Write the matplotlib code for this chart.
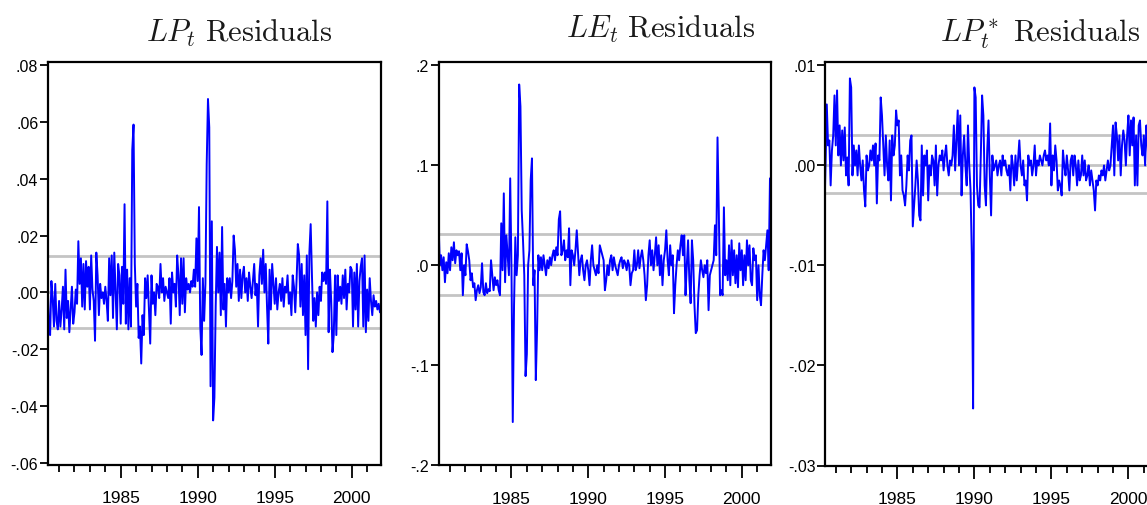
import numpy as np
import matplotlib
matplotlib.use('Agg')
import matplotlib.pyplot as plt
from matplotlib.ticker import FixedLocator, FuncFormatter

plt.rcParams['mathtext.fontset'] = 'cm'
tick_font = ['Liberation Sans Narrow', 'Liberation Sans', 'DejaVu Sans']

# monthly residuals, 1980:04 - 2001:12
start_year = 1980.25

# LP_t residuals, in units of 1e-3
lp_resid_e3 = [
    5, -11, -15, 4, -2, -12, 3, -10, -13,                  # 1980
    -3, -12, -6, 2, -13, 8, -9, -3, -14, -6, 2, -11,       # 1981
    -7, 1, -4, 18, 3, 12, -5, 10, -6, 11, 2, 9,            # 1982
    -6, 13, 1, -3, -17, 14, 6, -8, 3, -2, 0, -4,           # 1983
    2, -3, -10, 12, -1, 13, -9, 14, 1, -13, 10, 6,         # 1984
    -11, 9, -4, 31, -11, 8, -13, 5, -12, 50, 59, 10,       # 1985
    -5, 3, -16, -12, -25, -8, -15, 5, -2, 6, -6, -18,      # 1986
    6, -4, 0, -8, 3, 2, -2, 10, 0, 5, -3, 2,               # 1987
    0, -2, 5, -11, 7, 0, 3, -5, 13, 6, -8, 12,             # 1988
    -4, 12, -7, 5, 1, 3, 0, 4, 2, 8, 2, 19,                # 1989
    4, 30, -12, -22, 5, -10, 3, 45, 68, 58, -33, 25,       # 1990
    -45, -37, -5, 16, 0, 14, -8, 23, -6, 3, -12, 5,        # 1991
    0, 5, -2, 4, 20, 15, 2, 10, -3, 8, -2, 6,              # 1992
    9, 0, 5, -3, 7, 2, -2, 4, 10, -1, 3, -12,              # 1993
    6, 12, 3, 15, 0, 10, -5, -18, 8, -6, 10, 3,            # 1994
    -4, 5, -6, 0, 3, -3, 5, -5, 2, 0, 6, -4,               # 1995
    0, -8, 6, 2, -7, 4, 17, 13, -5, 10, -8, 6,             # 1996
    -15, 13, -27, 14, 24, 6, -10, -2, -12, 0, -8, 2,       # 1997
    -3, 7, 4, 7, 3, 32, -14, 8, -3, -21, -15, 6,           # 1998
    -15, 6, -3, 2, -4, 6, -2, 8, -6, 3, 0, 9,              # 1999
    8, -12, 7, -6, 10, -12, 4, 9, 12, -12, 13, -14,        # 2000
    1, -10, 5, -3, -8, -1, -5, -3, -6, -4, -7, -7,         # 2001
]

# LE_t residuals, in units of 1e-3
le_resid_e3 = [
    44, 0, 10, -5, 8, -17, 3, -8, 12,
    -5, 18, 5, 23, 2, 15, 10, 14, -5, 12, -30, 0,
    -10, 21, 14, 5, -15, -8, -22, -18, -35, -25, -20, -28,
    -22, 2, -27, -30, -18, -28, -24, -26, 5, -10, -25, -12,
    -20, -15, -25, -30, 42, -5, 72, -17, 30, 10, -10, 87,
    -5, -157, -40, 28, -10, 10, 181, 159, 55, 25, -10, -111,
    -89, 0, 15, 85, 107, -20, -5, -115, -65, 10, -5, 8,
    -5, 10, 0, -10, 5, -3, 8, 0, 10, 15, 5, 18,
    10, 46, 54, 10, 15, 25, 5, 15, 8, 37, -20, 15,
    10, 0, 15, 35, 12, -10, 5, 10, -5, -15, 0, 5,
    -5, -20, 5, 20, 0, -5, -10, 0, -8, 20, 15, 10,
    5, -25, -15, 0, -10, 5, 10, -5, 8, 0, -5, -10,
    0, 5, 8, -3, 5, 2, -5, 5, 0, -20, -8, -5,
    15, -5, 0, 15, -3, 8, 15, 5, -10, -35, -20, 10,
    25, 0, 15, -5, 10, 28, 0, 20, -10, 10, -20, 5,
    15, 35, 5, -10, 20, 0, 10, -48, -20, 0, 15, 5,
    20, 30, 10, 30, -30, 0, 25, -15, -38, 25, 5, -40,
    -68, -65, -30, -10, 5, -5, -12, 0, -8, 5, -45, -10,
    -5, 0, 5, 40, 10, 128, 55, -30, -25, -30, 58, -10,
    5, -15, 20, -20, 25, -10, 15, -18, 10, -22, 22, -5,
    15, -20, 10, -15, 25, 0, 20, -15, -20, 17, 5, 10,
    -35, 0, -30, -40, -10, 15, 5, 20, 35, -5, 87, -5,
]

# LP*_t residuals, in units of 1e-4
lpstar_resid_e4 = [
    -56, 0, 61, 20, 25, -20, 15, 30, 70,
    20, 75, 10, 40, 0, 35, 5, 38, -10, 8, -20, 87,
    78, -10, 20, 0, 15, -10, 20, 0, -15, 5, -25, -41,
    10, -5, 0, 15, 5, 20, 0, 22, -38, 10, 5, 68,
    50, 20, -10, 30, 0, -15, 25, -35, 30, 10, 20, 55,
    40, 45, -10, 10, -25, -30, -40, -20, 10, -5, 25, 30,
    -61, -40, -20, 5, -15, -50, -55, 20, -30, 10, 0, 15,
    -35, 0, -10, 10, 5, -20, 20, -30, 0, 10, 5, 15,
    -5, 10, 20, 0, -10, 5, 0, 10, 40, -5, 25, 55,
    0, 50, -30, 10, 30, 0, -20, 40, 0, -25, -90, -243,
    78, 68, -20, -40, -42, 10, 70, 50, -20, -40, 15, 45,
    -10, -50, 10, -5, 0, 5, -10, 0, 5, -10, 10, 0,
    5, -5, -10, 0, -25, 10, 0, -20, 10, -15, 5, 25,
    0, -10, 5, -20, -15, -35, 10, 0, 5, -10, 0, 20,
    -10, 5, 0, 10, 5, 0, 10, 15, 5, 10, 0, 42,
    -20, 10, -5, 20, 5, -25, -15, -20, -30, 15, 0, -10,
    10, -5, -25, 5, 10, -10, 10, 0, -20, 5, -15, -10,
    10, -10, 5, -15, -10, 0, -20, -5, -15, -25, -45, -15,
    -20, -10, -15, -5, -10, 0, -15, -5, 5, -5, 0, 20,
    40, -10, 43, 30, 5, 30, -10, 20, 35, 25, 0, 30,
    50, 10, 45, 20, 48, -20, 30, -20, 40, 45, 20, 10,
    30, 0, 40, 20, -10, 25, 35, 5, 20, 30, 10, 15,
]

# +/- one standard error bands (grey lines)
lp_band = [-0.0126, 0.0, 0.0129]
le_band = [-0.030, 0.0, 0.031]
lpstar_band = [-0.0028, 0.0, 0.0030]

lp_yticks = [-0.06, -0.04, -0.02, 0.0, 0.02, 0.04, 0.06, 0.08]
le_yticks = [-0.2, -0.1, 0.0, 0.1, 0.2]
lpstar_yticks = [-0.03, -0.02, -0.01, 0.0, 0.01]

year_labels = [1985, 1990, 1995, 2000]
minor_years = list(range(1981, 2002))

titles = [r'$LP_t\ \mathrm{Residuals}$', r'$LE_t\ \mathrm{Residuals}$',
          r'$LP_t^*\ \mathrm{Residuals}$']

W, H = 1147, 506
fig = plt.figure(figsize=(W / 100, H / 100), dpi=100)


def px_axes(left, top, right, bottom):
    return fig.add_axes([left / W, 1 - bottom / H, (right - left) / W, (bottom - top) / H])


def strip_zero(decimals):
    def f(v, pos):
        s = f'{v:.{decimals}f}'
        if s.startswith('-') and abs(v) < 1e-12:
            s = s[1:]
        return s.replace('0.', '.', 1)
    return FuncFormatter(f)


panels = [
    dict(series=np.array(lp_resid_e3) * 1e-3, band=lp_band, yticks=lp_yticks, dec=2,
         ylim=(-0.0605, 0.081), box=(48, 63, 381, 465.5), xlim=(1980.28, 2001.9),
         title_xy=(239, 42)),
    dict(series=np.array(le_resid_e3) * 1e-3, band=le_band, yticks=le_yticks, dec=1,
         ylim=(-0.2, 0.2035), box=(438.7, 63, 771, 466), xlim=(1980.26, 2001.9),
         title_xy=(661, 37.5)),
    dict(series=np.array(lpstar_resid_e4) * 1e-4, band=lpstar_band, yticks=lpstar_yticks, dec=2,
         ylim=(-0.03, 0.01034), box=(825.3, 63, 1158.3, 466.5), xlim=(1980.32, 2001.94),
         title_xy=(1040, 42)),
]

for p, title in zip(panels, titles):
    ax = px_axes(*p['box'])
    y = p['series']
    t = start_year + np.arange(len(y)) / 12
    for b in p['band']:
        ax.axhline(b, color='#c4c4c4', lw=2.0, zorder=1)
    ax.plot(t, y, color='#0000ff', lw=1.4, zorder=2)
    ax.set_xlim(*p['xlim'])
    ax.set_ylim(*p['ylim'])
    ax.xaxis.set_major_locator(FixedLocator(year_labels))
    ax.xaxis.set_minor_locator(FixedLocator(minor_years))
    ax.yaxis.set_major_locator(FixedLocator(p['yticks']))
    ax.yaxis.set_major_formatter(strip_zero(p['dec']))
    ax.tick_params(axis='x', which='major', direction='out', length=9.5, width=1.3, pad=9,
                   labelsize=12.5)
    ax.tick_params(axis='x', which='minor', direction='out', length=5, width=1.3)
    ax.tick_params(axis='y', direction='out', length=5.5, width=1.3, pad=1.5, labelsize=11.5)
    for lab in ax.get_xticklabels() + ax.get_yticklabels():
        lab.set_family(tick_font)
    for s in ax.spines.values():
        s.set_linewidth(1.6)
    tx, ty = p['title_xy']
    fig.text(tx / W, 1 - ty / H, title, ha='center', va='baseline', fontsize=22, color='#1a1a1a')

fig.savefig('out.png', dpi=100)
